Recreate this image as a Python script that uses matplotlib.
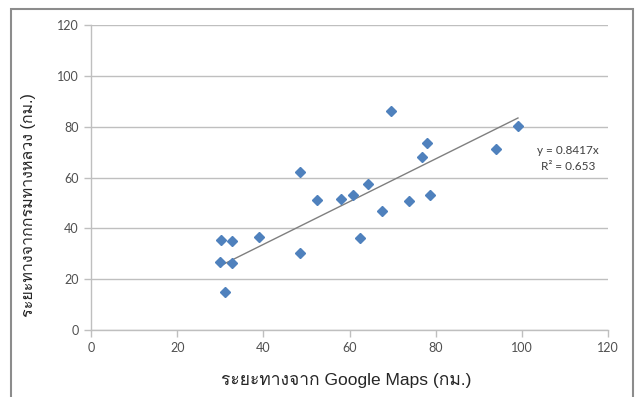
import matplotlib
matplotlib.use('Agg')
import matplotlib.pyplot as plt
from matplotlib import font_manager
from matplotlib.ft2font import FT2Font
import numpy as np

# distances (km)
google_km = [30.2, 32.7, 30.0, 32.7, 31.0, 38.9, 48.5, 48.5, 52.4, 58.1, 60.9,
             64.3, 62.5, 67.5, 69.7, 73.8, 76.8, 78.0, 78.8, 94.0, 99.1]
highway_km = [35.4, 35.1, 26.7, 26.2, 14.9, 36.4, 62.2, 30.1, 51.2, 51.5, 53.2,
              57.5, 36.2, 46.8, 86.1, 50.6, 68.1, 73.6, 53.1, 71.1, 80.2]
slope = 0.8417
r_squared = 0.653
x_ticks = [0, 20, 40, 60, 80, 100, 120]
y_ticks = [0, 20, 40, 60, 80, 100, 120]

x_label = 'ระยะทางจาก Google Maps (กม.)'
y_label = 'ระยะทางจากกรมทางหลวง (กม.)'


def find_thai_family():
    # look for any installed font that has Thai glyphs
    for f in font_manager.fontManager.ttflist:
        try:
            cmap = FT2Font(f.fname).get_charmap()
        except Exception:
            continue
        if 0x0E23 in cmap and 0x0E01 in cmap:
            return f.name
    return 'DejaVu Sans'


thai = find_thai_family()
label_fonts = ['Liberation Sans', thai, 'DejaVu Sans']

fig = plt.figure(figsize=(6.37, 3.97), dpi=100)
ax = fig.add_axes((91 / 637, 1 - 330 / 397, 517 / 637, 305 / 397))

grid_col = '#bfbfbf'
ax.set_xlim(0, 120)
ax.set_ylim(0, 120)
ax.set_xticks(x_ticks)
ax.set_yticks(y_ticks)
ax.yaxis.grid(True, color=grid_col, linewidth=1)
ax.set_axisbelow(True)
for side in ['top', 'right']:
    ax.spines[side].set_visible(False)
for side in ['left', 'bottom']:
    ax.spines[side].set_color(grid_col)
    ax.spines[side].set_linewidth(1)
ax.tick_params(length=5, width=1, color=grid_col, labelsize=9,
               labelcolor='#505050', pad=4)
for lab in ax.get_xticklabels() + ax.get_yticklabels():
    lab.set_fontfamily(['Lato', 'DejaVu Sans'])

ax.plot(google_km, highway_km, linestyle='none', marker='D', markersize=5.5,
        color='#4f81bd', markeredgecolor='#4f81bd', zorder=3)

# trendline through origin
xs = np.array([min(google_km), max(google_km)])
ax.plot(xs, slope * xs, color='#7f7f7f', linewidth=1, zorder=2)

ax.text(568 / 637, 1 - 151 / 397, f'y = {slope}x', transform=fig.transFigure,
        ha='center', va='center', fontsize=8.5, color='#404040',
        family=['Lato', 'DejaVu Sans'])
ax.text(568 / 637, 1 - 166 / 397, f'R² = {r_squared}', transform=fig.transFigure,
        ha='center', va='center', fontsize=8.5, color='#404040',
        family=['Lato', 'DejaVu Sans'])

fig.text(346 / 637, 1 - 381 / 397, x_label, ha='center', va='center',
         fontsize=12.5, color='#262626', family=label_fonts)
fig.text(28 / 637, 1 - 205 / 397, y_label, ha='center', va='center',
         rotation=90, fontsize=11.5, color='#262626', family=label_fonts)

# outer chart border
border = plt.Rectangle((11 / 637, -0.05), 622 / 637, 1.05 - 9 / 397,
                       transform=fig.transFigure, fill=False,
                       edgecolor='#8c8c8c', linewidth=1.5)
fig.patches.append(border)

fig.savefig('out.png', dpi=100)
